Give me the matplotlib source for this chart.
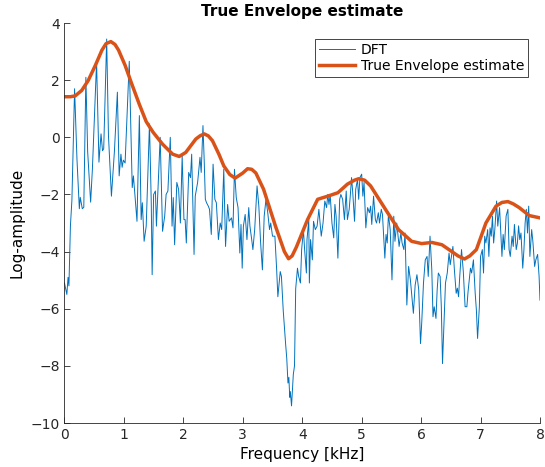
import matplotlib
matplotlib.use("Agg")
import matplotlib.pyplot as plt

# DFT log-amplitude (peaks and troughs)
dft_khz = [
    0.00, 0.04, 0.06, 0.075, 0.10, 0.125, 0.17, 0.21, 0.25, 0.265, 0.30, 0.325,
    0.36, 0.39, 0.44, 0.47, 0.54, 0.58, 0.615, 0.64, 0.66, 0.71, 0.74, 0.79,
    0.84, 0.89, 0.92, 0.95, 0.97, 0.99, 1.02, 1.09, 1.14, 1.16, 1.22, 1.26,
    1.29, 1.31, 1.34, 1.375, 1.43, 1.46, 1.475, 1.50, 1.53, 1.547, 1.61, 1.65,
    1.686, 1.71, 1.74, 1.78, 1.81, 1.83, 1.853, 1.89, 1.92, 1.95, 1.98, 2.01,
    2.03, 2.05, 2.09, 2.12, 2.14, 2.18, 2.20, 2.23, 2.24, 2.28, 2.30, 2.33,
    2.35, 2.37, 2.39, 2.42, 2.44, 2.47, 2.50, 2.53, 2.555, 2.59, 2.62, 2.645,
    2.68, 2.71, 2.745, 2.77, 2.81, 2.835, 2.86, 2.89, 2.92, 2.95, 2.97, 2.99,
    3.01, 3.04, 3.07, 3.10, 3.12, 3.15, 3.17, 3.20, 3.24, 3.27, 3.30, 3.33,
    3.36, 3.39, 3.42, 3.45, 3.47, 3.50, 3.54, 3.57, 3.59, 3.63, 3.65, 3.68,
    3.72, 3.74, 3.76, 3.775, 3.79, 3.80, 3.82, 3.85, 3.87, 3.89, 3.92, 3.94,
    3.97, 3.99, 4.02, 4.04, 4.07, 4.08, 4.11, 4.12, 4.14, 4.17, 4.19, 4.22,
    4.25, 4.28, 4.32, 4.35, 4.38, 4.41, 4.43, 4.45, 4.47, 4.50, 4.53, 4.55,
    4.57, 4.60, 4.63, 4.65, 4.68, 4.71, 4.74, 4.76, 4.79, 4.81, 4.83, 4.85,
    4.88, 4.90, 4.93, 4.95, 4.97, 5.00, 5.02, 5.04, 5.07, 5.10, 5.13, 5.15,
    5.17, 5.20, 5.23, 5.25, 5.28, 5.30, 5.33, 5.35, 5.39, 5.41, 5.43, 5.45,
    5.48, 5.51, 5.54, 5.56, 5.59, 5.63, 5.66, 5.68, 5.71, 5.73, 5.76, 5.79,
    5.82, 5.87, 5.90, 5.93, 5.96, 5.99, 6.01, 6.04, 6.07, 6.10, 6.12, 6.15,
    6.18, 6.20, 6.22, 6.25, 6.27, 6.29, 6.32, 6.34, 6.36, 6.39, 6.41, 6.44,
    6.47, 6.49, 6.535, 6.56, 6.59, 6.61, 6.63, 6.65, 6.68, 6.71, 6.74, 6.77,
    6.79, 6.81, 6.83, 6.85, 6.88, 6.91, 6.93, 6.95, 6.98, 7.00, 7.03, 7.05,
    7.07, 7.09, 7.12, 7.14, 7.16, 7.18, 7.20, 7.22, 7.24, 7.27, 7.29, 7.32,
    7.34, 7.36, 7.38, 7.40, 7.43, 7.46, 7.48, 7.50, 7.53, 7.55, 7.57, 7.60,
    7.62, 7.64, 7.66, 7.68, 7.71, 7.73, 7.75, 7.77, 7.79, 7.81, 7.83, 7.86,
    7.88, 7.91, 7.93, 7.96, 7.985, 8.00,
]
dft_val = [
    -5.1, -5.5, -4.9, -5.2, -3.1, -2.2, 1.7, -0.76, -2.5, -2.1, -2.5, -2.45,
    2.1, -0.5, -2.27, -1.1, 2.64, -0.87, 0.12, -0.47, -0.4, 3.44, 0.06, -2.06,
    -0.5, 1.58, -1.35, -0.59, -1.05, -0.8, -0.9, 2.66, -1.76, -1.35, -2.94, 0.76,
    -2.88, -2.29, -3.64, -3.11, 0.47, -2.28, -4.81, -2.0, -1.88, -3.11, 0.0, -3.29,
    -2.76, -2.0, -1.88, 0.0, -3.11, -2.11, -3.76, -1.58, -1.82, -3.0, -0.65, -2.88,
    -2.88, -3.7, -1.23, -1.41, -0.59, -4.1, -2.06, -1.7, -1.58, -0.7, -1.23, 0.41,
    -0.76, -2.17, -2.29, -2.41, -2.52, -3.4, -0.94, -2.17, -2.29, -3.58, -3.0, -3.23,
    -1.12, -3.82, -2.35, -2.94, -2.82, -3.17, -1.12, -2.11, -2.46, -4.05, -3.05, -4.58,
    -3.11, -2.7, -3.58, -2.46, -3.11, -3.58, -3.93, -3.23, -1.7, -2.41, -3.7, -4.64,
    -2.76, -2.17, -2.64, -3.23, -3.0, -3.46, -3.46, -4.64, -5.58, -4.7, -4.87, -6.05,
    -7.22, -7.75, -8.6, -8.4, -9.1, -8.9, -9.4, -8.3, -8.0, -5.3, -4.58, -4.87,
    -5.1, -3.93, -3.23, -3.93, -4.75, -3.58, -2.88, -5.1, -3.58, -4.29, -2.94, -3.23,
    -3.11, -2.52, -3.46, -3.0, -2.23, -2.46, -2.0, -2.35, -2.0, -3.0, -3.52, -2.35,
    -2.76, -4.23, -2.17, -2.0, -2.17, -2.88, -1.88, -2.88, -2.52, -2.0, -1.41, -1.94,
    -2.94, -1.82, -1.47, -2.17, -1.41, -1.29, -2.06, -1.58, -3.17, -2.46, -2.64, -2.41,
    -3.05, -2.06, -2.88, -3.0, -2.64, -3.0, -2.52, -2.7, -4.23, -3.4, -3.7, -2.7,
    -3.23, -4.99, -2.76, -3.64, -3.0, -3.82, -3.35, -3.7, -3.93, -3.35, -5.87, -4.52,
    -5.0, -6.16, -5.17, -4.81, -5.34, -7.22, -6.51, -5.1, -4.29, -4.17, -4.87, -3.46,
    -4.64, -6.28, -5.93, -6.34, -5.34, -4.75, -4.87, -5.93, -7.92, -6.28, -5.1, -4.75,
    -4.05, -4.46, -3.82, -4.64, -5.46, -5.28, -5.58, -4.87, -3.93, -4.7, -5.93, -5.93,
    -5.4, -4.99, -4.58, -4.75, -4.29, -5.46, -6.05, -7.04, -5.93, -4.17, -3.93, -4.75,
    -3.46, -3.7, -3.23, -4.17, -3.17, -3.46, -2.76, -3.7, -3.23, -2.23, -3.11, -2.46,
    -3.35, -4.17, -3.4, -3.93, -2.76, -2.52, -3.93, -4.17, -3.46, -3.82, -3.05, -3.93,
    -3.7, -3.1, -3.58, -3.35, -4.58, -3.93, -3.0, -2.52, -3.35, -2.41, -4.17, -3.23,
    -3.64, -4.52, -4.29, -4.1, -4.87, -5.7,
]

# True Envelope estimate
env_khz = [
    0.0, 0.10, 0.18, 0.29, 0.40, 0.52, 0.63, 0.70, 0.78, 0.85, 0.91, 1.02,
    1.13, 1.26, 1.375, 1.49, 1.65, 1.82, 1.93, 2.04, 2.21, 2.28, 2.35, 2.42,
    2.49, 2.60, 2.68, 2.78, 2.87, 3.0, 3.08, 3.15, 3.22, 3.35, 3.55, 3.70,
    3.77, 3.83, 3.9, 4.09, 4.26, 4.43, 4.6, 4.76, 4.88, 4.95, 4.99, 5.05,
    5.15, 5.40, 5.62, 5.84, 6.01, 6.18, 6.35, 6.51, 6.62, 6.73, 6.82, 6.93,
    7.09, 7.26, 7.36, 7.46, 7.55, 7.65, 7.82, 8.0,
]
env_val = [
    1.42, 1.42, 1.45, 1.64, 1.99, 2.52, 3.05, 3.28, 3.35, 3.25, 3.05, 2.52,
    1.88, 1.15, 0.55, 0.18, -0.24, -0.59, -0.67, -0.53, -0.06, 0.05, 0.12, 0.05,
    -0.12, -0.6, -1.0, -1.3, -1.43, -1.25, -1.1, -1.12, -1.25, -1.82, -3.11, -4.0,
    -4.25, -4.15, -3.85, -2.88, -2.17, -2.06, -1.94, -1.64, -1.5, -1.45, -1.47, -1.5,
    -1.7, -2.52, -3.23, -3.64, -3.72, -3.68, -3.76, -3.99, -4.15, -4.26, -4.15, -3.93,
    -3.0, -2.41, -2.28, -2.25, -2.33, -2.46, -2.74, -2.82,
]

x_ticks = [0, 1, 2, 3, 4, 5, 6, 7, 8]
y_ticks = [-10, -8, -6, -4, -2, 0, 2, 4]

fig = plt.figure(figsize=(5.45, 4.67), dpi=100)
ax = fig.add_axes([0.1183, 0.0942, 0.8725, 0.8565])

ax.plot(dft_khz, dft_val, color="#0072BD", lw=0.7, label="DFT")
ax.plot(env_khz, env_val, color="#D95319", lw=2.5, label="True Envelope estimate",
        solid_joinstyle="round")

ax.set_xlim(0, 8)
ax.set_ylim(-10, 4)
ax.set_xticks(x_ticks)
ax.set_yticks(y_ticks)
ax.tick_params(direction="in", length=4, width=0.6, colors="#262626", labelsize=10)
for side in ("top", "right"):
    ax.spines[side].set_visible(False)
for side in ("left", "bottom"):
    ax.spines[side].set_color("#262626")
    ax.spines[side].set_linewidth(0.6)

ax.set_xlabel("Frequency [kHz]", fontsize=11)
ax.set_ylabel("Log-amplitude", fontsize=11)
ax.set_title("True Envelope estimate", fontsize=11, fontweight="bold", pad=5)

leg = ax.legend(loc="upper right", bbox_to_anchor=(0.975, 0.96), fontsize=10,
                fancybox=False, framealpha=1, edgecolor="#262626",
                borderpad=0.3, labelspacing=0.1, handlelength=2.6,
                handletextpad=0.4, borderaxespad=0)
leg.get_frame().set_linewidth(0.6)

fig.savefig("out.png", dpi=100)
